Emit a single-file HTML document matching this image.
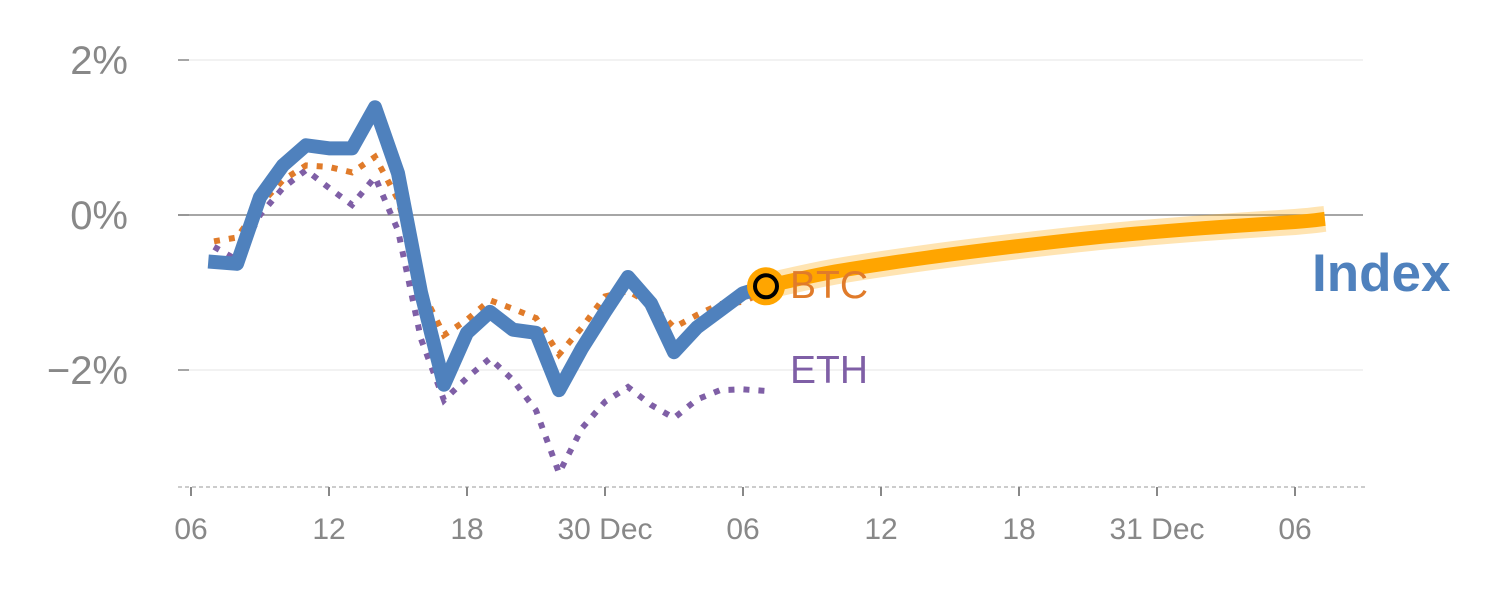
<!DOCTYPE html>
<html><head><meta charset="utf-8"><style>
body{margin:0;background:#fff;}
svg{display:block;font-family:"Liberation Sans",sans-serif;}
</style></head><body>
<svg id="chart" width="1500" height="600"></svg>
<script>
const days = [0.75,2,3,4,5,6,7,8,9,10,11,12,13,14,15,16,17,18,19,20,21,22,23,24,25];
const indexVals = [-0.60,-0.63,0.23,0.64,0.90,0.86,0.86,1.39,0.54,-1.0,-2.19,-1.52,-1.25,-1.48,-1.52,-2.26,-1.72,-1.25,-0.80,-1.14,-1.77,-1.45,-1.23,-1.01,-0.92];
const btcDays = [1,2,3,4,5,6,7,8,9,10,11,12,13,14,15,16,17,18,19,20,21,22,23,24,25];
const btcVals = [-0.34,-0.29,0.13,0.45,0.64,0.62,0.55,0.75,0.2,-0.95,-1.55,-1.35,-1.10,-1.21,-1.33,-1.80,-1.45,-1.05,-0.98,-1.15,-1.45,-1.29,-1.15,-1.12,-0.98];
const ethVals = [-0.41,-0.58,0.0,0.35,0.58,0.35,0.13,0.49,-0.2,-1.6,-2.39,-2.1,-1.85,-2.13,-2.52,-3.33,-2.75,-2.41,-2.22,-2.45,-2.62,-2.38,-2.26,-2.25,-2.27];
const fcDays = [25,28,32,36,40,44,48,49.3];
const fcVals = [-0.92,-0.73,-0.55,-0.40,-0.27,-0.17,-0.09,-0.05];
const yTicks = [2,0,-2];
const yTickLabels = ["2%","0%","\u22122%"];
const xTickDays = [0,6,12,18,24,30,36,42,48];
const xTickLabels = ["06","12","18","30 Dec","06","12","18","31 Dec","06"];

const X = d => 191 + 23*d;
const Y = v => 215 - 77.5*v;
const svg = document.getElementById('chart');
const NS = 'http://www.w3.org/2000/svg';
function mk(tag, attrs, parent){const e=document.createElementNS(NS,tag);for(const k in attrs)e.setAttribute(k,attrs[k]);(parent||svg).appendChild(e);return e;}

yTicks.forEach((v,i)=>{
  const g = mk('line',{x1:178,x2:1363,y1:Y(v),y2:Y(v),stroke:v===0?'#888':'#e4e4e4','stroke-width':v===0?1.5:1});
  
  
  const tm = mk('line',{x1:178,x2:189,y1:Y(v),y2:Y(v),stroke:'#888','stroke-width':1.5});
  
  
  const t = mk('text',{x:128,y:Y(v)+14,'text-anchor':'end','font-size':40,fill:'#888'});
  t.textContent = yTickLabels[i];
  
  
});
const ax = mk('line',{x1:178,x2:1365,y1:487,y2:487,stroke:'#ccc','stroke-width':2,'stroke-dasharray':'4 3'});


xTickDays.forEach((d,i)=>{
  const tm = mk('line',{x1:X(d),x2:X(d),y1:487,y2:496,stroke:'#888','stroke-width':2});
  
  
  const t = mk('text',{x:X(d),y:539,'text-anchor':'middle','font-size':30,fill:'#888'});
  t.textContent = xTickLabels[i];
  
  
});
function path(ds, vs){return ds.map((d,i)=>(i?'L':'M')+X(d)+','+Y(vs[i])).join(' ');}
function smooth(ds, vs){
  const p = ds.map((d,i)=>[X(d),Y(vs[i])]);
  let s='M'+p[0][0]+','+p[0][1];
  for(let i=0;i<p.length-1;i++){
    const p0=p[i-1]||p[i],p1=p[i],p2=p[i+1],p3=p[i+2]||p2;
    s+=' C'+(p1[0]+(p2[0]-p0[0])/6)+','+(p1[1]+(p2[1]-p0[1])/6)+' '+(p2[0]-(p3[0]-p1[0])/6)+','+(p2[1]-(p3[1]-p1[1])/6)+' '+p2[0]+','+p2[1];
  }
  return s;
}
const fh = mk('path',{d:smooth(fcDays,fcVals),fill:'none',stroke:'#FFA500','stroke-opacity':0.3,'stroke-width':26,'stroke-linecap':'butt'});


const fl = mk('path',{d:smooth(fcDays,fcVals),fill:'none',stroke:'#FFA500','stroke-width':14,'stroke-linecap':'butt'});


const eth = mk('path',{d:path(btcDays,ethVals),fill:'none',stroke:'#7F5FA6','stroke-width':6,'stroke-dasharray':'6 9'});


const btc = mk('path',{d:path(btcDays,btcVals),fill:'none',stroke:'#E07B2A','stroke-width':6,'stroke-dasharray':'6 9'});


const idx = mk('path',{d:path(days,indexVals),fill:'none',stroke:'#4F81BD','stroke-width':14,'stroke-linejoin':'round'});


const last = indexVals.length-1;
const c1 = mk('circle',{cx:X(days[last]),cy:Y(indexVals[last]),r:19,fill:'#FFA500'});


mk('circle',{cx:X(days[last]),cy:Y(indexVals[last]),r:11,fill:'#FFA500',stroke:'#000','stroke-width':4});
const lb = mk('text',{x:790,y:298,'font-size':39,fill:'#E07B2A'}); lb.textContent='BTC';


const le = mk('text',{x:790,y:383,'font-size':39,fill:'#7F5FA6'}); le.textContent='ETH';


const li = mk('text',{x:1312,y:291,'font-size':53,'font-weight':'bold',fill:'#4F81BD'}); li.textContent='Index';


</script>
</body></html>
